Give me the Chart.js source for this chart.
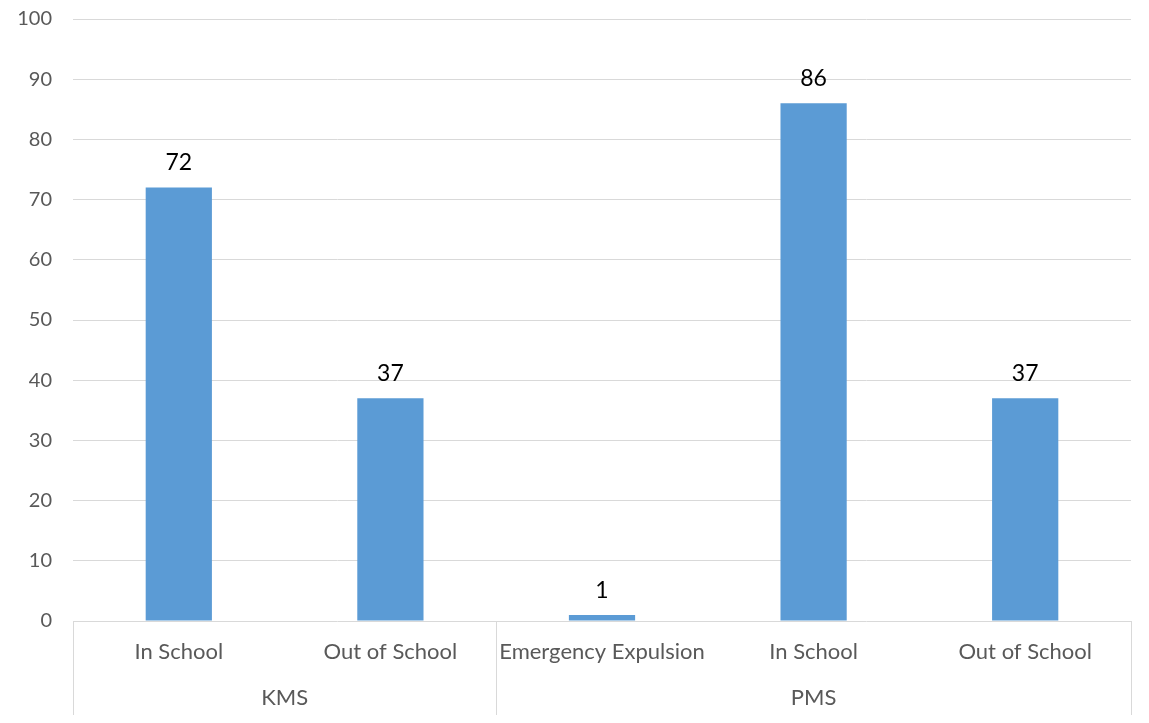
<!DOCTYPE html>
<html>
<head>
<meta charset="utf-8">
<script src="https://cdn.jsdelivr.net/npm/chart.js@4"></script>
<style>
html,body{margin:0;padding:0;background:#fff;}
#wrap{width:1149px;height:723px;position:relative;}
</style>
</head>
<body>
<div id="wrap"><canvas id="c"></canvas></div>
<script>
const categories = ["In School", "Out of School", "Emergency Expulsion", "In School", "Out of School"];
const groups = ["KMS", "PMS"];
const groupSizes = [2, 3];
const values = [72, 37, 1, 86, 37];
const yTicks = [0, 10, 20, 30, 40, 50, 60, 70, 80, 90, 100];

const FONT = "Lato, 'Liberation Sans', sans-serif";
const GRID = "#d9d9d9";
const TXT = "#595959";

const groupPlugin = {
  id: 'groups',
  afterDraw(chart) {
    const ctx = chart.ctx;
    const xs = chart.scales.x;
    const area = chart.chartArea;
    const bottom = chart.height - 8;
    const half = (xs.getPixelForValue(1) - xs.getPixelForValue(0)) / 2;
    ctx.save();
    ctx.strokeStyle = GRID;
    ctx.lineWidth = 1;
    let idx = 0;
    const boundaries = [xs.getPixelForValue(0) - half];
    ctx.font = "22px " + FONT;
    ctx.fillStyle = TXT;
    ctx.textAlign = 'center';
    ctx.textBaseline = 'middle';
    groups.forEach((g, gi) => {
      const start = idx, end = idx + groupSizes[gi] - 1;
      const left = xs.getPixelForValue(start) - half;
      const right = xs.getPixelForValue(end) + half;
      boundaries.push(right);
      ctx.fillText(g, (left + right) / 2, area.bottom + 77);
      idx += groupSizes[gi];
    });
    boundaries.forEach(b => {
      const x = Math.round(b) + 0.5;
      ctx.beginPath();
      ctx.moveTo(x, area.bottom);
      ctx.lineTo(x, bottom);
      ctx.stroke();
    });
    ctx.restore();
  }
};

const labelPlugin = {
  id: 'vlabels',
  afterDatasetsDraw(chart) {
    const ctx = chart.ctx;
    const meta = chart.getDatasetMeta(0);
    ctx.save();
    ctx.font = "23px " + FONT;
    ctx.fillStyle = "#000";
    ctx.textAlign = 'center';
    ctx.textBaseline = 'bottom';
    meta.data.forEach((bar, i) => {
      ctx.fillText(String(values[i]), bar.x, bar.y - 13);
    });
    ctx.restore();
  }
};

new Chart(document.getElementById('c'), {
  type: 'bar',
  data: {
    labels: categories,
    datasets: [{
      data: values,
      backgroundColor: '#5B9BD5',
      borderWidth: 0,
      categoryPercentage: 1,
      barPercentage: 0.313
    }]
  },
  options: {
    responsive: true,
    maintainAspectRatio: false,
    animation: false,
    layout: { padding: { top: 19, right: 18, left: 0, bottom: 0 } },
    plugins: { legend: { display: false }, tooltip: { enabled: false } },
    scales: {
      x: {
        grid: { display: false, drawTicks: false },
        border: { display: false },
        ticks: { color: TXT, font: { family: FONT, size: 22 }, padding: 18, maxRotation: 0, autoSkip: false },
        afterFit(s) { s.height = 102; }
      },
      y: {
        min: 0, max: 100,
        afterBuildTicks(s) { s.ticks = yTicks.map(v => ({ value: v })); },
        grid: { color: GRID, lineWidth: 1, drawTicks: true, tickLength: 21, tickColor: 'rgba(0,0,0,0)' },
        border: { display: false },
        ticks: { color: TXT, font: { family: FONT, size: 20 }, padding: 0 },
        afterFit(s) { s.width = 73; }
      }
    }
  },
  plugins: [labelPlugin, groupPlugin]
});
</script>
</body>
</html>
